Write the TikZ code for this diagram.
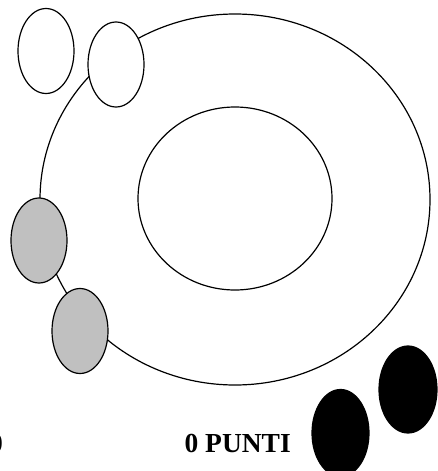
\documentclass[tikz,border=0pt]{standalone}
\usepackage{fontspec}
\setmainfont{Liberation Serif}
\usetikzlibrary{shapes.geometric}
\begin{document}
\begin{tikzpicture}[x=1pt,y=-1pt,line width=1.2pt,
  ring/.style={draw,ellipse,inner sep=0pt},
  token/.style={draw,ellipse,inner sep=0pt,minimum width=56pt,minimum height=85pt},
  whitetok/.style={token,fill=white},
  graytok/.style={token,fill=gray75},
  blacktok/.style={token,fill=black},
  lbl/.style={inner sep=0pt,font=\fontsize{27.5}{30}\selectfont\bfseries}]
\definecolor{gray75}{HTML}{C0C0C0}
\useasboundingbox (0,0) rectangle (437,471);
\node[ring,minimum width=390pt,minimum height=371pt] (outer) at (235,199.5) {};
\node[ring,minimum width=194pt,minimum height=183pt] (inner) at (235,198.5) {};
\node[whitetok] (w1) at (46,51) {};
\node[whitetok] (w2) at (116,64.5) {};
\node[graytok] (g1) at (39,240.5) {};
\node[graytok] (g2) at (80,331) {};
\node[blacktok,minimum width=57pt,minimum height=87pt] (b1) at (340.5,433) {};
\node[blacktok,minimum width=58pt,minimum height=87pt] (b2) at (408,389.5) {};
\node[lbl,anchor=base west] (pts) at (184,452) {0 PUNTI};
\node[lbl,anchor=base east] (cut) at (3.5,452) {0};
\end{tikzpicture}
\end{document}
